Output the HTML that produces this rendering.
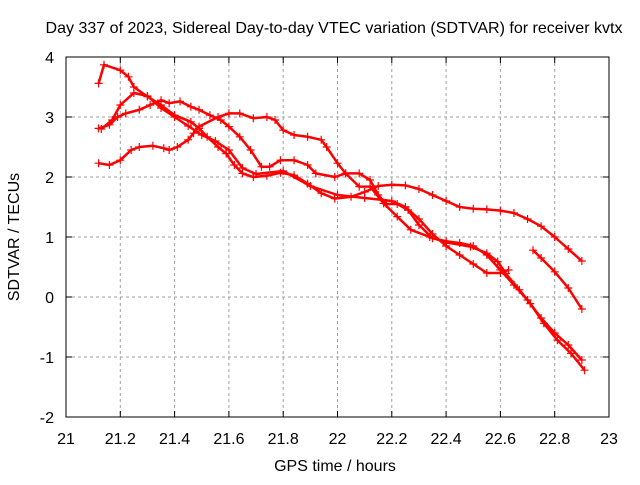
<!DOCTYPE html>
<html><head><meta charset="utf-8"><style>
body{margin:0;background:#fff;}
svg text{font-family:"Liberation Sans",sans-serif;font-size:16px;fill:#000;}
</style></head><body>
<svg id="chart" width="640" height="480" xmlns="http://www.w3.org/2000/svg">
<rect width="640" height="480" fill="#fff"/>
<text x="334" y="33" text-anchor="middle" textLength="577" lengthAdjust="spacingAndGlyphs">Day 337 of 2023, Sidereal Day-to-day VTEC variation (SDTVAR) for receiver kvtx</text>
<g id="grid"></g>
<g id="ticks"></g>
<g id="series"></g>
<rect x="66" y="57" width="543" height="360" fill="none" stroke="#000" stroke-width="1"/>
<text x="335" y="471" text-anchor="middle">GPS time / hours</text>
<text transform="translate(19,237) rotate(-90)" text-anchor="middle">SDTVAR / TECUs</text>
</svg>
<script>
const xTicks=[21,21.2,21.4,21.6,21.8,22,22.2,22.4,22.6,22.8,23];
const xTickLabels=["21","21.2","21.4","21.6","21.8","22","22.2","22.4","22.6","22.8","23"];
const yTicks=[-2,-1,0,1,2,3,4];
const yTickLabels=["-2","-1","0","1","2","3","4"];
const trackAx=[21.12,21.14,21.2,21.23,21.25,21.3,21.35,21.4,21.46,21.49,21.52,21.56,21.59,21.62,21.65,21.69,21.74,21.79,21.84,21.89,21.94,21.99,22.05,22.1,22.15,22.2,22.25,22.3,22.35,22.4,22.45,22.5,22.55,22.6,22.65,22.7,22.75,22.8,22.85,22.9];
const trackAy=[3.56,3.87,3.78,3.67,3.5,3.34,3.2,3.03,2.92,2.81,2.67,2.5,2.39,2.2,2.06,2.0,2.02,2.07,2.03,1.89,1.73,1.64,1.67,1.75,1.85,1.87,1.86,1.8,1.7,1.6,1.5,1.47,1.46,1.44,1.4,1.3,1.18,1.0,0.8,0.6];
const trackBx=[21.13,21.17,21.2,21.25,21.3,21.35,21.4,21.45,21.5,21.55,21.6,21.65,21.7,21.8,21.9,22.0,22.1,22.2,22.25,22.3,22.35,22.4,22.45,22.5,22.55,22.6,22.63];
const trackBy=[2.8,2.95,3.2,3.4,3.35,3.15,3.0,2.85,2.7,2.6,2.45,2.15,2.05,2.1,1.85,1.7,1.65,1.6,1.5,1.3,1.05,0.85,0.7,0.55,0.4,0.4,0.45];
const trackCx=[21.12,21.16,21.19,21.22,21.27,21.31,21.35,21.38,21.42,21.46,21.49,21.53,21.57,21.6,21.64,21.68,21.72,21.75,21.79,21.84,21.89,21.92,21.99,22.03,22.08,22.12,22.15,22.18,22.22,22.26,22.3,22.35,22.4,22.45,22.5,22.55,22.6,22.65,22.7,22.75,22.8,22.85,22.9];
const trackCy=[2.81,2.87,3.0,3.06,3.12,3.2,3.28,3.23,3.26,3.17,3.12,3.03,2.95,2.84,2.67,2.45,2.17,2.17,2.28,2.28,2.2,2.06,2.0,2.06,2.06,1.95,1.7,1.55,1.55,1.45,1.2,0.98,0.93,0.9,0.85,0.7,0.45,0.2,-0.05,-0.35,-0.6,-0.8,-1.05];
const trackDx=[21.12,21.16,21.2,21.24,21.27,21.32,21.36,21.38,21.41,21.45,21.47,21.49,21.56,21.6,21.64,21.69,21.74,21.77,21.8,21.84,21.89,21.94,21.96,22.0,22.03,22.08,22.12,22.17,22.22,22.27,22.34,22.4,22.49,22.55,22.59,22.62,22.67,22.71,22.76,22.81,22.86,22.91];
const trackDy=[2.23,2.2,2.28,2.45,2.5,2.52,2.48,2.45,2.5,2.62,2.73,2.84,3.0,3.06,3.06,2.98,3.0,2.95,2.78,2.7,2.67,2.62,2.5,2.23,2.06,1.84,1.84,1.56,1.34,1.12,1.0,0.91,0.84,0.73,0.59,0.39,0.12,-0.11,-0.44,-0.72,-0.94,-1.22];
const trackEx=[22.72,22.75,22.8,22.85,22.9];
const trackEy=[0.78,0.65,0.42,0.15,-0.2];
const tracks=[[trackAx,trackAy],[trackBx,trackBy],[trackCx,trackCy],[trackDx,trackDy],[trackEx,trackEy]];
const NS="http://www.w3.org/2000/svg";
const X0=66,X1=609,Y0=417,Y1=57;
function sx(h){return X0+(h-21)/2*(X1-X0);}
function sy(v){return Y0-(v+2)/6*(Y0-Y1);}
const grid=document.getElementById('grid'),ticks=document.getElementById('ticks'),series=document.getElementById('series');
function mk(tag,attrs,parent){const e=document.createElementNS(NS,tag);for(const k in attrs)e.setAttribute(k,attrs[k]);parent.appendChild(e);return e;}
xTicks.forEach((t,i)=>{
  const x=sx(t);
  if(i>0&&i<xTicks.length-1){const g=mk('line',{x1:x,x2:x,y1:Y1,y2:Y0,stroke:'#a0a0a0','stroke-dasharray':'3,3'},grid);
  
  }
  mk('line',{x1:x,x2:x,y1:Y0,y2:Y0-6,stroke:'#000'},ticks);
  mk('line',{x1:x,x2:x,y1:Y1,y2:Y1+6,stroke:'#000'},ticks);
  const tx=mk('text',{x:x,y:444,'text-anchor':'middle'},ticks);
  tx.textContent=xTickLabels[i];
  
  
});
yTicks.forEach((t,i)=>{
  const y=sy(t);
  if(i>0&&i<yTicks.length-1){const g=mk('line',{x1:X0,x2:X1,y1:y,y2:y,stroke:'#a0a0a0','stroke-dasharray':'3,3'},grid);
  
  }
  mk('line',{x1:X0,x2:X0+6,y1:y,y2:y,stroke:'#000'},ticks);
  mk('line',{x1:X1,x2:X1-6,y1:y,y2:y,stroke:'#000'},ticks);
  const tx=mk('text',{x:54,y:y+6,'text-anchor':'end'},ticks);
  tx.textContent=yTickLabels[i];
  
  
});
tracks.forEach((tr,k)=>{
  const xs=tr[0],ys=tr[1];
  const g=mk('g',{},series);
  
  
  let d='';
  xs.forEach((h,i)=>{d+=(i?'L':'M')+sx(h).toFixed(1)+','+sy(ys[i]).toFixed(1);});
  mk('path',{d:d,fill:'none',stroke:'#ff0000','stroke-width':2.5,'stroke-linejoin':'round'},g);
  xs.forEach((h,i)=>{
    const x=sx(h),y=sy(ys[i]);
    const p=mk('path',{d:`M${x-4},${y}h8M${x},${y-4}v8`,stroke:'#ff0000','stroke-width':1.2},g);
    
    
  });
});
</script>
</body></html>
